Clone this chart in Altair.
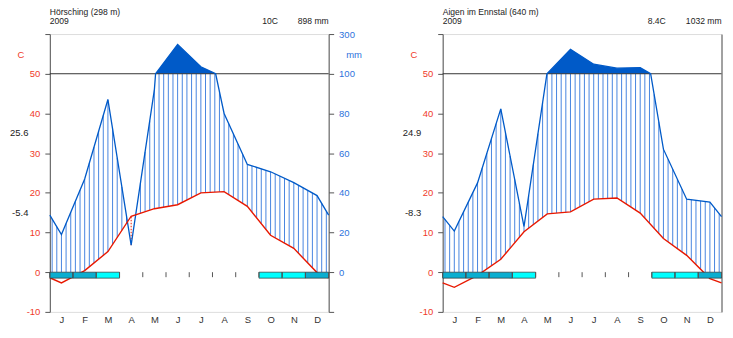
import altair as alt
import numpy as np
import pandas as pd

# ---------------- data ----------------
MONTHS = ["J", "F", "M", "A", "M", "J", "J", "A", "S", "O", "N", "D"]

STATION_1 = "Hörsching (298 m)"
PERIOD_1 = "2009"
TEMP_1 = [-2.7, 0.4, 5.2, 14.1, 16.0, 17.0, 20.0, 20.3, 16.6, 9.3, 6.0, -0.1]
PREC_1 = [19.0, 47.0, 87.0, 13.6, 92.0, 248.0, 135.0, 80.0, 54.3, 50.6, 45.1, 38.6]
FROST_1 = ["sure", "sure", "prob", "", "", "", "", "", "", "prob", "prob", "sure"]
MEAN_T_1 = "10C"
SUM_P_1 = "898 mm"
MAXMAX_1 = "25.6"
MINMIN_1 = "-5.4"

STATION_2 = "Aigen im Ennstal (640 m)"
PERIOD_2 = "2009"
TEMP_2 = [-3.8, -0.8, 3.25, 10.2, 14.7, 15.2, 18.4, 18.7, 14.9, 8.5, 4.25, -1.6]
PREC_2 = [20.7, 45.0, 82.3, 23.0, 101.0, 223.0, 148.0, 128.0, 131.0, 62.0, 36.8, 35.3]
FROST_2 = ["sure", "sure", "sure", "prob", "", "", "", "", "", "prob", "prob", "sure"]
MEAN_T_2 = "8.4C"
SUM_P_2 = "1032 mm"
MAXMAX_2 = "24.9"
MINMIN_2 = "-8.3"

T_TICKS = [-10, 0, 10, 20, 30, 40, 50, 60]
P_TICKS = [0, 20, 40, 60, 80, 100, 300]

# ---------------- styles ----------------
PCOL = "#005ac8"
HCOL = "#3378dc"
TCOL = "#e81800"
TLAB = "#f03a2a"
PLAB = "#2d72dc"
SURE_COL = "#0aaed0"
PROB_COL = "#00ffff"
AXIS_COL = "#555555"
TXT_COL = "#222222"
FONT = "Liberation Sans"
FS = 9.5
FS_HEAD = 8.6
HATCH_N = 66

W, H = 280, 279
YS = alt.Scale(domain=[-10, 60], nice=False, zero=False)
XS = alt.Scale(domain=[0, 12], nice=False, zero=False)


def scale_p(p):
    return p / 2.0 if p <= 100 else 50.0 + (p - 100.0) / 20.0


def p_label_expr():
    parts = []
    for p in P_TICKS:
        parts.append("datum.value == %g ? '%d' : " % (scale_p(p), p))
    return "".join(parts) + "''"


X_AXIS = alt.Axis(
    values=[i + 0.5 for i in range(12)],
    labelExpr="[" + ",".join("'%s'" % m for m in MONTHS) + "][floor(datum.value)]",
    orient="bottom", ticks=False, tickSize=0, domain=False, grid=False,
    labelPadding=3, labelFontSize=FS, labelColor="#333333", labelFlush=False,
    labelOverlap=False, title=None,
)

L_AXIS = alt.Axis(
    values=T_TICKS, labelExpr="datum.value >= 60 ? '' : '' + datum.value",
    orient="left", grid=False, tickSize=5, labelPadding=5, labelFontSize=FS,
    labelColor=TLAB, domainColor=AXIS_COL, tickColor=AXIS_COL, labelOverlap=False,
    title="C", titleAngle=0, titleX=-29.5, titleY=20.6, titleAlign="center",
    titleBaseline="middle", titleColor=TLAB, titleFontWeight="normal", titleFontSize=FS,
)

R_AXIS_1 = alt.Axis(
    values=[-10] + [scale_p(p) for p in P_TICKS], labelExpr=p_label_expr(),
    orient="right", grid=False, tickSize=5, labelPadding=5, labelFontSize=FS,
    labelColor=PLAB, domainColor=AXIS_COL, tickColor=AXIS_COL, labelOverlap=False,
    title="mm", titleAngle=0, titleX=25, titleY=20.6, titleAlign="center",
    titleBaseline="middle", titleColor=PLAB, titleFontWeight="normal", titleFontSize=FS,
)

# the second panel's right axis is cut off by the picture's right edge
R_AXIS_2 = alt.Axis(
    orient="right", grid=False, ticks=False, labels=False, domainColor=AXIS_COL, title=None,
)


def text_layer(txt, x, y, align, size=FS, color=TXT_COL, ydatum=False):
    base = alt.Chart(pd.DataFrame({"k": [0]})).mark_text(
        text=txt, align=align, baseline="middle", fontSize=size, color=color, font=FONT
    )
    if ydatum:
        return base.encode(x=alt.value(x), y=alt.Y(datum=y, scale=YS, axis=L_AXIS))
    return base.encode(x=alt.value(x), y=alt.value(y))


def panel(station, period, temp, prec, frost, mean_t, sum_p, tmax, tmin, tcol_right, r_axis):
    xs = [0.0] + [i + 0.5 for i in range(12)] + [12.0]
    te = (temp[0] + temp[-1]) / 2.0
    pe = (prec[0] + prec[-1]) / 2.0
    tl = [te] + list(temp) + [te]
    pl = [pe] + list(prec) + [pe]

    px, pv = [], []
    for i in range(len(xs)):
        if i > 0 and (pl[i - 1] - 100) * (pl[i] - 100) < 0:
            f = (100 - pl[i - 1]) / (pl[i] - pl[i - 1])
            px.append(xs[i - 1] + f * (xs[i] - xs[i - 1]))
            pv.append(100.0)
        px.append(xs[i])
        pv.append(pl[i])
    ps = [scale_p(v) for v in pv]

    temp_df = pd.DataFrame({"x": xs, "t": tl})
    prec_df = pd.DataFrame({"x": px, "p": ps, "ptop": [max(v, 50.0) for v in ps], "base": 50.0})

    hx = np.array([-0.5 + 13.0 * k / (HATCH_N - 1) for k in range(HATCH_N)])
    hx = hx[(hx >= 0) & (hx <= 12)]
    ht = np.interp(hx, xs, tl)
    hp = np.minimum(np.interp(hx, xs, pl), 100.0) / 2.0
    htc = np.maximum(ht, 0.0)
    wet = hp > htc
    dry = hp < ht
    wet_df = pd.DataFrame({"x": hx[wet], "y1": htc[wet], "y2": hp[wet]})
    dry_df = pd.DataFrame({"x": hx[dry], "y1": hp[dry], "y2": ht[dry]})

    fr = [(i, i + 1, k) for i, k in enumerate(frost) if k]
    frost_df = pd.DataFrame({"x": [a for a, _, _ in fr], "x2": [b for _, b, _ in fr],
                             "kind": [k for _, _, k in fr], "top": 0.0, "bot": -1.5})
    ticks_df = pd.DataFrame({"x": list(range(13)), "y": 0.0, "y2": -1.25})
    ref_df = pd.DataFrame({"x": [0.0], "x2": [12.0], "y": [50.0]})

    X = lambda f: alt.X(f, scale=XS, axis=X_AXIS)
    Y = lambda f: alt.Y(f, scale=YS, axis=L_AXIS)

    hatch = alt.Chart(wet_df).mark_rule(color=HCOL, strokeWidth=0.9).encode(
        x=X("x:Q"), y=Y("y1:Q"), y2="y2:Q")
    dryl = alt.Chart(dry_df).mark_rule(color=TCOL, strokeWidth=1, strokeDash=[1.5, 1.5]).encode(
        x=X("x:Q"), y=Y("y1:Q"), y2="y2:Q")
    area = alt.Chart(prec_df).mark_area(color=PCOL, opacity=1).encode(
        x=X("x:Q"), y=Y("ptop:Q"), y2="base:Q")
    ref = alt.Chart(ref_df).mark_rule(color="#333333", strokeWidth=1).encode(
        x=X("x:Q"), x2="x2:Q", y=Y("y:Q"))
    pline = alt.Chart(prec_df).mark_line(color=PCOL, strokeWidth=1.3).encode(
        x=X("x:Q"), y=Y("p:Q"))
    tline = alt.Chart(temp_df).mark_line(color=TCOL, strokeWidth=1.4).encode(
        x=X("x:Q"), y=Y("t:Q"))
    boxes = alt.Chart(frost_df).mark_rect(stroke="#333333", strokeWidth=0.7).encode(
        x=X("x:Q"), x2="x2:Q", y=Y("top:Q"), y2="bot:Q",
        color=alt.Color("kind:N", scale=alt.Scale(domain=["sure", "prob"], range=[SURE_COL, PROB_COL]),
                        legend=None))
    zt = alt.Chart(ticks_df).mark_rule(color=AXIS_COL, strokeWidth=1).encode(
        x=X("x:Q"), y=Y("y:Q"), y2="y2:Q")

    texts = [
        text_layer(station, 0, -22.0, "left", size=FS_HEAD),
        text_layer(period, 0, -13.0, "left", size=FS_HEAD),
        text_layer(mean_t, tcol_right, -13.0, "right", size=FS_HEAD),
        text_layer(sum_p, W, -13.0, "right", size=FS_HEAD),
        text_layer(tmax, -21.5, 35, "right", ydatum=True),
        text_layer(tmin, -21.5, 14.8, "right", ydatum=True),
    ]

    inner = alt.layer(hatch, dryl, area, ref, pline, tline, boxes, zt, *texts)

    raxis = alt.Chart(pd.DataFrame({"x": [6.0, 6.0], "y": [-10.0, 60.0]})).mark_point(
        opacity=0, size=0).encode(x=X("x:Q"), y=alt.Y("y:Q", scale=YS, axis=r_axis))

    return alt.layer(inner, raxis).resolve_scale(y="independent").properties(width=W, height=H)


p1 = panel(STATION_1, PERIOD_1, TEMP_1, PREC_1, FROST_1, MEAN_T_1, SUM_P_1, MAXMAX_1, MINMIN_1, 229, R_AXIS_1)
p2 = panel(STATION_2, PERIOD_2, TEMP_2, PREC_2, FROST_2, MEAN_T_2, SUM_P_2, MAXMAX_2, MINMIN_2, 224, R_AXIS_2)

chart = alt.hconcat(p1, p2, spacing=39.5).properties(
    padding={"left": 1, "top": -1.5, "right": 0, "bottom": -1.5}
).configure_view(stroke=None).configure(font=FONT)

chart.save("out.html", embed_options={"renderer": "svg", "actions": False})
